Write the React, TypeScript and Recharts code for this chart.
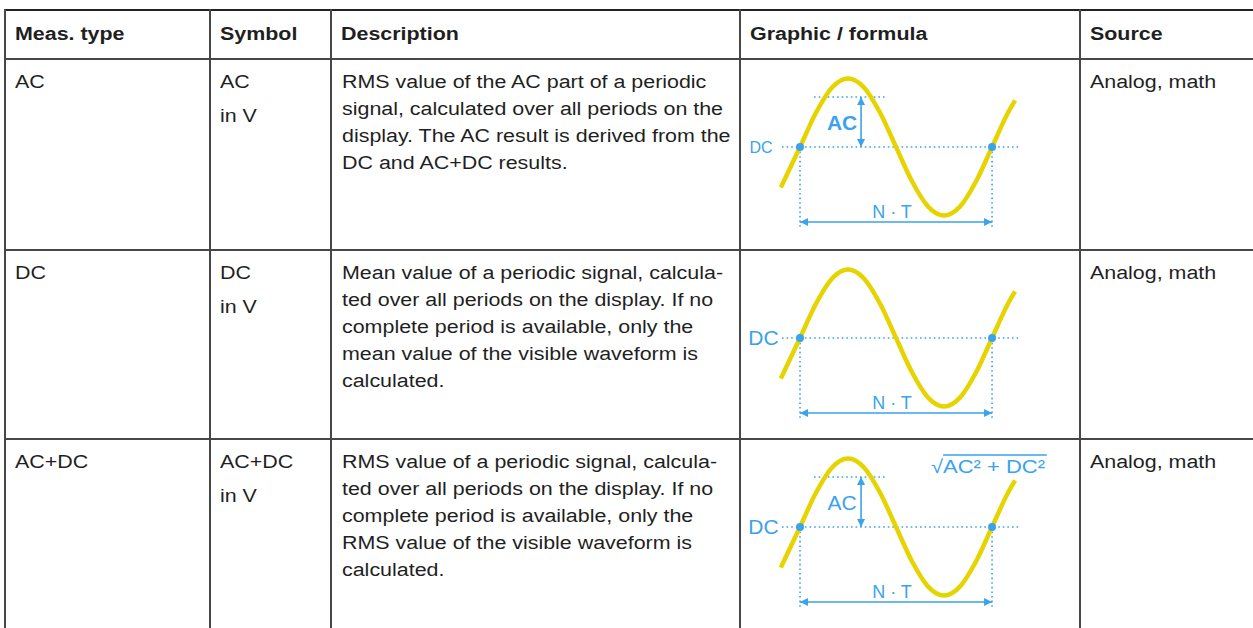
import React from "react";
import {
  LineChart,
  Line,
  XAxis,
  YAxis,
  ReferenceLine,
  ReferenceDot,
} from "recharts";

const headers = ["Meas. type", "Symbol", "Description", "Graphic / formula", "Source"];
const measTypes = ["AC", "DC", "AC+DC"];
const symbols = ["AC", "DC", "AC+DC"];
const symbolUnit = "in V";
const descriptions = [
  [
    "RMS value of the AC part of a periodic",
    "signal, calculated over all periods on the",
    "display. The AC result is derived from the",
    "DC and AC+DC results.",
  ],
  [
    "Mean value of a periodic signal, calcula-",
    "ted over all periods on the display. If no",
    "complete period is available, only the",
    "mean value of the visible waveform is",
    "calculated.",
  ],
  [
    "RMS value of a periodic signal, calcula-",
    "ted over all periods on the display. If no",
    "complete period is available, only the",
    "RMS value of the visible waveform is",
    "calculated.",
  ],
];
const sources = ["Analog, math", "Analog, math", "Analog, math"];

// one period = 1, DC level = 0, amplitude = 1
const wavePhase = [-0.1, 0, 0.083, 0.167, 0.25, 0.333, 0.417, 0.5, 0.583, 0.667, 0.75, 0.833, 0.917, 1, 1.083, 1.12];
const waveLevel = [-0.59, 0, 0.5, 0.87, 1, 0.87, 0.5, 0, -0.5, -0.87, -1, -0.87, -0.5, 0, 0.5, 0.68];
const acLevel = 0.73;
const formula = "√AC² + DC²";

const waveData = wavePhase.map((t, i) => ({ t, v: waveLevel[i] }));

const FONT = '"Liberation Sans", Arial, Helvetica, sans-serif';
const TEXT = "#1f1f1f";
const GRID = "#474747";
const BLUE = "#3ba2ee";
const YELLOW = "#e6d400";

const COL_X = [5, 210, 331, 740, 1080];
const ROW_Y = [9, 59, 250, 439];
const CHART_W = 340;
const CHART_H = 190;
const X_DOMAIN: [number, number] = [-0.3125, 1.458];
const Y_DOMAIN: [number, number] = [-1.489, 1.285];
const STRETCH = "scaleX(1.19)";

const DOTTED = { stroke: BLUE, strokeWidth: 1.6, strokeDasharray: "1.6 3" };

function ArrowLine(p: any) {
  const { x1, y1, x2, y2 } = p;
  const a = Math.atan2(y2 - y1, x2 - x1);
  const head = (x: number, y: number, ang: number) => {
    const len = 8;
    const w = 4;
    const bx = x - len * Math.cos(ang);
    const by = y - len * Math.sin(ang);
    const px = -Math.sin(ang) * w;
    const py = Math.cos(ang) * w;
    return `${x},${y} ${bx + px},${by + py} ${bx - px},${by - py}`;
  };
  return (
    <g>
      <line x1={x1} y1={y1} x2={x2} y2={y2} stroke={BLUE} strokeWidth={1.6} />
      <polygon points={head(x2, y2, a)} fill={BLUE} />
      <polygon points={head(x1, y1, a + Math.PI)} fill={BLUE} />
    </g>
  );
}

function FormulaLabel(p: any) {
  const vb = p.viewBox || {};
  return (
    <text
      x={vb.x}
      y={vb.y}
      dy="0.36em"
      fill={BLUE}
      fontSize={19}
      fontFamily={FONT}
      textLength={114}
      lengthAdjust="spacingAndGlyphs"
    >
      {formula}
    </text>
  );
}

function Waveform({ row }: { row: number }) {
  const showAC = row !== 1;
  const dcSize = row === 0 ? 16 : 21;
  return (
    <LineChart
      width={CHART_W}
      height={CHART_H}
      data={waveData}
      margin={{ top: 0, right: 0, bottom: 0, left: 0 }}
    >
      <XAxis type="number" dataKey="t" domain={X_DOMAIN} hide allowDataOverflow />
      <YAxis type="number" domain={Y_DOMAIN} hide allowDataOverflow />
      <ReferenceLine segment={[{ x: -0.094, y: 0 }, { x: 1.14, y: 0 }]} {...DOTTED} />
      <ReferenceLine segment={[{ x: 0, y: 0 }, { x: 0, y: -1.17 }]} {...DOTTED} />
      <ReferenceLine segment={[{ x: 1, y: 0 }, { x: 1, y: -1.17 }]} {...DOTTED} />
      <ReferenceLine
        segment={[{ x: 0, y: -1.095 }, { x: 1, y: -1.095 }]}
        shape={ArrowLine}
      />
      {showAC && (
        <ReferenceLine
          segment={[{ x: 0.073, y: acLevel }, { x: 0.448, y: acLevel }]}
          {...DOTTED}
        />
      )}
      {showAC && (
        <ReferenceLine
          segment={[{ x: 0.318, y: 0 }, { x: 0.318, y: acLevel }]}
          shape={ArrowLine}
        />
      )}
      {row === 2 && (
        <ReferenceLine
          segment={[{ x: 0.745, y: 1.05 }, { x: 1.285, y: 1.05 }]}
          stroke={BLUE}
          strokeWidth={1.5}
        />
      )}
      <Line
        dataKey="v"
        type="monotone"
        stroke={YELLOW}
        strokeWidth={4.5}
        dot={false}
        activeDot={false}
        isAnimationActive={false}
      />
      <ReferenceDot x={0} y={0} r={4} fill={BLUE} stroke="none" />
      <ReferenceDot x={1} y={0} r={4} fill={BLUE} stroke="none" />
      <ReferenceDot
        x={row === 0 ? -0.203 : -0.19}
        y={0}
        r={0}
        fill="none"
        stroke="none"
        label={{ value: "DC", position: "center", fill: BLUE, fontSize: dcSize, fontFamily: FONT }}
      />
      <ReferenceDot
        x={0.479}
        y={-0.95}
        r={0}
        fill="none"
        stroke="none"
        label={{ value: "N · T", position: "center", fill: BLUE, fontSize: 18, fontFamily: FONT }}
      />
      {showAC && (
        <ReferenceDot
          x={0.219}
          y={0.35}
          r={0}
          fill="none"
          stroke="none"
          label={{
            value: "AC",
            position: "center",
            fill: BLUE,
            fontSize: 21,
            fontWeight: row === 0 ? "bold" : "normal",
            fontFamily: FONT,
          }}
        />
      )}
      {row === 2 && (
        <ReferenceDot
          x={0.682}
          y={0.89}
          r={0}
          fill="none"
          stroke="none"
          label={{ content: FormulaLabel }}
        />
      )}
    </LineChart>
  );
}

const cellText: React.CSSProperties = {
  position: "absolute",
  fontSize: 18,
  lineHeight: "27px",
  whiteSpace: "nowrap",
  transform: STRETCH,
  transformOrigin: "left top",
};

export default function App() {
  const rows = [0, 1, 2];
  return (
    <div
      style={{
        position: "relative",
        width: 1253,
        height: 628,
        overflow: "hidden",
        background: "#fff",
        fontFamily: FONT,
        color: TEXT,
      }}
    >
      <style>{"body{margin:0}"}</style>

      {/* header */}
      {headers.map((h, i) => (
        <div
          key={h}
          style={{
            position: "absolute",
            left: COL_X[i] + 10,
            top: ROW_Y[0],
            height: 50,
            lineHeight: "50px",
            fontSize: 18,
            fontWeight: "bold",
            whiteSpace: "nowrap",
            transform: STRETCH,
            transformOrigin: "left top",
          }}
        >
          {h}
        </div>
      ))}

      {/* body rows */}
      {rows.map((r) => {
        const top = ROW_Y[r + 1];
        return (
          <React.Fragment key={r}>
            <div style={{ ...cellText, left: COL_X[0] + 10, top: top + 10 }}>{measTypes[r]}</div>
            <div style={{ ...cellText, left: COL_X[1] + 10, top: top + 10 }}>
              <div>{symbols[r]}</div>
              <div style={{ marginTop: 7 }}>{symbolUnit}</div>
            </div>
            <div style={{ ...cellText, left: COL_X[2] + 11, top: top + 10 }}>
              {descriptions[r].map((line, k) => (
                <div key={k}>{line}</div>
              ))}
            </div>
            <div style={{ position: "absolute", left: COL_X[3], top }}>
              <Waveform row={r} />
            </div>
            <div style={{ ...cellText, left: COL_X[4] + 10, top: top + 10 }}>{sources[r]}</div>
          </React.Fragment>
        );
      })}

      {/* grid lines */}
      <div style={{ position: "absolute", left: COL_X[0], top: ROW_Y[0], width: 1253, height: 2, background: "#222" }} />
      {ROW_Y.slice(1).map((y) => (
        <div
          key={y}
          style={{ position: "absolute", left: COL_X[0], top: y - 1, width: 1253, height: 2, background: GRID }}
        />
      ))}
      {COL_X.map((x) => (
        <div
          key={x}
          style={{ position: "absolute", left: x - 1, top: ROW_Y[0], width: 1.5, height: 628, background: GRID }}
        />
      ))}
    </div>
  );
}
